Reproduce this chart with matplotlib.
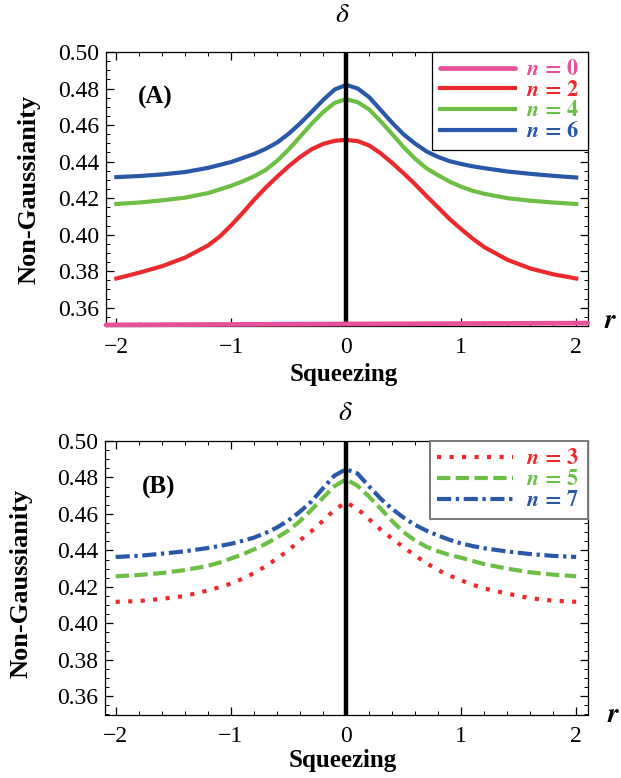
import numpy as np
import matplotlib
matplotlib.use('Agg')
import matplotlib.pyplot as plt
from matplotlib.ticker import MultipleLocator, FormatStrFormatter

plt.rcParams['font.family'] = ['Liberation Serif', 'DejaVu Serif']
plt.rcParams['mathtext.fontset'] = 'stix'

# ---------------- data ----------------
r_vals = [-2.0, -1.8, -1.6, -1.4, -1.2, -1.1, -1.0, -0.9, -0.8, -0.7, -0.6, -0.5, -0.4, -0.3, -0.2, -0.1, 0.0,
          0.1, 0.2, 0.3, 0.4, 0.5, 0.6, 0.7, 0.8, 0.9, 1.0, 1.1, 1.2, 1.4, 1.6, 1.8, 2.0]

# Panel A
n0_r = [-2.09, 2.10]
n0 = [0.3506, 0.3516]
n2 = [0.3760, 0.3792, 0.3828, 0.3875, 0.3942, 0.3990, 0.4052, 0.4120, 0.4192, 0.4258, 0.4318, 0.4375,
      0.4426, 0.4468, 0.4497, 0.4514, 0.4519,
      0.4512, 0.4488, 0.4445, 0.4392, 0.4335, 0.4275, 0.4210, 0.4148, 0.4085, 0.4030, 0.3978, 0.3932,
      0.3863, 0.3815, 0.3783, 0.3760]
n4 = [0.4168, 0.4176, 0.4188, 0.4203, 0.4228, 0.4248, 0.4268, 0.4292, 0.4320, 0.4355, 0.4405, 0.4467,
      0.4537, 0.4608, 0.4672, 0.4722, 0.4742,
      0.4725, 0.4685, 0.4620, 0.4550, 0.4478, 0.4415, 0.4362, 0.4325, 0.4290, 0.4262, 0.4240, 0.4224,
      0.4200, 0.4186, 0.4176, 0.4168]
n6 = [0.4315, 0.4321, 0.4330, 0.4343, 0.4366, 0.4382, 0.4398, 0.4420, 0.4442, 0.4470, 0.4505, 0.4553,
      0.4610, 0.4673, 0.4738, 0.4795, 0.4820,
      0.4800, 0.4752, 0.4682, 0.4612, 0.4548, 0.4498, 0.4455, 0.4425, 0.4402, 0.4387, 0.4374, 0.4364,
      0.4346, 0.4333, 0.4322, 0.4313]

# Panel B
n3 = [0.4118, 0.4122, 0.4134, 0.4150, 0.4180, 0.4198, 0.4218, 0.4244, 0.4275, 0.4312, 0.4355, 0.4400,
      0.4455, 0.4505, 0.4562, 0.4622, 0.4664,
      0.4628, 0.4572, 0.4515, 0.4465, 0.4418, 0.4372, 0.4330, 0.4292, 0.4262, 0.4236, 0.4212, 0.4192,
      0.4163, 0.4138, 0.4124, 0.4118]
n5 = [0.4258, 0.4265, 0.4276, 0.4292, 0.4315, 0.4333, 0.4355, 0.4378, 0.4405, 0.4435, 0.4470, 0.4509,
      0.4560, 0.4622, 0.4688, 0.4752, 0.4790,
      0.4755, 0.4695, 0.4630, 0.4562, 0.4500, 0.4455, 0.4420, 0.4395, 0.4375, 0.4360, 0.4342, 0.4325,
      0.4300, 0.4280, 0.4267, 0.4258]
n7 = [0.4364, 0.4370, 0.4382, 0.4395, 0.4413, 0.4424, 0.4436, 0.4452, 0.4470, 0.4495, 0.4525, 0.4564,
      0.4612, 0.4668, 0.4740, 0.4810, 0.4845,
      0.4822, 0.4752, 0.4685, 0.4628, 0.4580, 0.4540, 0.4508, 0.4482, 0.4458, 0.4438, 0.4424, 0.4412,
      0.4394, 0.4380, 0.4370, 0.4364]

labels_A = ['0', '2', '4', '6']
labels_B = ['3', '5', '7']

PINK = '#E8509A'
RED = '#EC2A2E'
GREEN = '#6DBE45'
BLUE = '#2A58A8'

# ---------------- figure ----------------
W, H = 621, 778
fig = plt.figure(figsize=(6.21, 7.78), dpi=100)
axA = fig.add_axes([106 / W, 1 - 326 / H, (587.7 - 106) / W, (326 - 52) / H])
axB = fig.add_axes([105.3 / W, 1 - 714.5 / H, (587.7 - 105.3) / W, (714.5 - 441) / H])


def style(ax):
    ax.set_xlim(-2.09, 2.10)
    ax.set_ylim(0.35, 0.50)
    ax.xaxis.set_major_locator(MultipleLocator(1))
    ax.xaxis.set_minor_locator(MultipleLocator(0.2))
    ax.yaxis.set_major_locator(MultipleLocator(0.02))
    ax.yaxis.set_minor_locator(MultipleLocator(0.005))
    ax.yaxis.set_major_formatter(FormatStrFormatter('%.2f'))
    ax.tick_params(which='both', direction='in', top=True, right=True, labelsize=17, colors='black')
    ax.tick_params(which='major', length=6, width=0.9)
    ax.tick_params(which='minor', length=3, width=0.7)
    ax.tick_params(axis='x', pad=8)
    ax.tick_params(axis='y', pad=5)
    for s in ax.spines.values():
        s.set_linewidth(0.9)
    ax.axvline(0, color='black', lw=3.2, zorder=4)


style(axA)
style(axB)


def lab(v, sym='n'):
    return r'$\mathbfit{' + sym + r'}\mathbf{\,=\,' + v + '}$'


# Panel A curves
axA.plot(n0_r, n0, color=PINK, lw=3.4, solid_capstyle='round', clip_on=False, zorder=5,
         label=lab(labels_A[0]))
axA.plot(r_vals, n2, color=RED, lw=3.0, label=lab(labels_A[1]), zorder=3)
axA.plot(r_vals, n4, color=GREEN, lw=3.0, label=lab(labels_A[2]), zorder=3)
axA.plot(r_vals, n6, color=BLUE, lw=3.0, label=lab(labels_A[3]), zorder=3)

legA = axA.legend(loc='upper right', bbox_to_anchor=(1, 1), borderaxespad=0, fontsize=16,
                  fancybox=False, edgecolor='black', framealpha=1, handlelength=3.4,
                  handletextpad=0.5, labelspacing=0.0, borderpad=0.35, labelcolor='linecolor')
legA.get_frame().set_linewidth(0.9)
legA.set_zorder(6)

# Panel B curves
axB.plot(r_vals, n3, color=RED, lw=3.0, linestyle=(0, (1.0, 2.0)), label=lab(labels_B[0]), zorder=3)
axB.plot(r_vals, n5, color=GREEN, lw=3.0, linestyle=(0, (3.2, 1.3)), label=lab(labels_B[1]), zorder=3)
axB.plot(r_vals, n7, color=BLUE, lw=3.0, linestyle=(0, (3.4, 1.1, 0.8, 1.1)), label=lab(labels_B[2]), zorder=3)

legB = axB.legend(loc='upper right', bbox_to_anchor=(1, 1), borderaxespad=0, fontsize=16,
                  fancybox=False, edgecolor='#7a7a7a', framealpha=1, handlelength=3.4,
                  handletextpad=0.6, labelspacing=0.02, borderpad=0.35, labelcolor='linecolor')
legB.get_frame().set_linewidth(1.4)
legB.set_zorder(6)

# Panel tags
axA.text(-1.66, 0.4749, '(A)', fontsize=18, fontweight='bold', ha='center', va='center')
axB.text(-1.63, 0.4743, '(B)', fontsize=18, fontweight='bold', ha='center', va='center')

# Axis labels
for yc, xc in [(189, 29), (583, 21)]:
    fig.text(xc / W, 1 - yc / H, 'Non-Gaussianity', rotation=90, fontsize=19, fontweight='bold',
             ha='center', va='center')
for yc, xc in [(374, 344), (760, 343)]:
    fig.text(xc / W, 1 - yc / H, 'Squeezing', fontsize=18, fontweight='bold', ha='center', va='center')
for yc, xc in [(15, 342), (413, 345)]:
    fig.text(xc / W, 1 - yc / H, r'$\delta$', fontsize=20, ha='center', va='center')
fig.text(611 / W, 1 - 322 / H, r'$\mathbfit{r}$', fontsize=20, ha='center', va='center')
fig.text(614 / W, 1 - 716 / H, r'$\mathbfit{r}$', fontsize=20, ha='center', va='center')

fig.savefig('out.png', dpi=100, facecolor='white')
